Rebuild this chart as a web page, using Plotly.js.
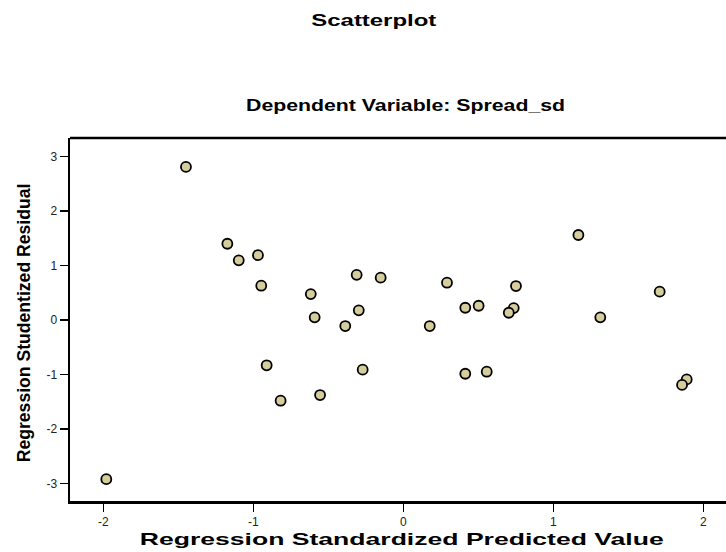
<!DOCTYPE html>
<html>
<head>
<meta charset="utf-8">
<script src="https://cdn.plot.ly/plotly-3.0.1.min.js"></script>
<style>html,body{margin:0;padding:0;background:#fff;}#chart{width:726px;height:552px;}</style>
</head>
<body>
<div id="chart"></div>
<script>
// Regression standardized predicted values (x) and studentized residuals (y)
const predicted = [-1.449, -1.98, -1.173, -1.097, -0.969, -0.947, -0.617, -0.311, -0.151, 0.291,
  0.413, 0.502, -0.297, -0.591, -0.387, 0.176, -0.911, -0.818, -0.555, -0.271,
  0.413, 0.556, 0.751, 0.736, 0.703, 1.167, 1.709, 1.313, 1.889, 1.858];
const residual = [2.81, -2.92, 1.40, 1.095, 1.19, 0.63, 0.477, 0.83, 0.777, 0.685,
  0.226, 0.262, 0.178, 0.05, -0.11, -0.11, -0.83, -1.48, -1.376, -0.91,
  -0.985, -0.948, 0.624, 0.22, 0.134, 1.56, 0.52, 0.05, -1.09, -1.19];
const xTicks = [-2, -1, 0, 1, 2];
const yTicks = [-3, -2, -1, 0, 1, 2, 3];
const chartTitle = 'Scatterplot';
const subTitle = 'Dependent Variable: Spread_sd';
const xTitle = 'Regression Standardized Predicted Value';
const yTitle = 'Regression Studentized Residual';

const font = "'Liberation Sans', Arial, sans-serif";

const trace = {
  x: predicted, y: residual, type: 'scatter', mode: 'markers',
  marker: {symbol: 'circle', size: 10, color: '#d6cd9c', line: {color: '#000', width: 1.8}},
  hoverinfo: 'skip', cliponaxis: false
};

function ann(text, x, y, size, angle) {
  return {text: text, xref: 'paper', yref: 'paper', x: x, y: y, textangle: angle || 0,
    showarrow: false, xanchor: 'center', yanchor: 'middle',
    font: {family: font, size: size, color: '#000', weight: 700}};
}

const layout = {
  width: 726, height: 552,
  margin: {l: 70, r: 0, t: 138, b: 51, pad: 0},
  paper_bgcolor: '#fff', plot_bgcolor: '#fff',
  showlegend: false,
  font: {family: font, color: '#222', size: 12},
  xaxis: {
    range: [-2.222, 2.151], tickvals: xTicks, ticktext: xTicks.map(String),
    showgrid: false, zeroline: false, showline: true, linecolor: '#000', linewidth: 2.5,
    ticks: 'outside', ticklen: 8, tickwidth: 1.5, tickcolor: '#000',
    tickfont: {family: font, size: 12, color: '#222'}
  },
  yaxis: {
    range: [-3.32, 3.34], tickvals: yTicks, ticktext: yTicks.map(String),
    showgrid: false, zeroline: false, showline: true, linecolor: '#000', linewidth: 2.5,
    ticks: 'outside', ticklen: 8, tickwidth: 1.5, tickcolor: '#000',
    tickfont: {family: font, size: 12, color: '#222'}
  },
  shapes: [{type: 'line', xref: 'paper', yref: 'paper', x0: 0, x1: 1, y0: 1, y1: 1,
    line: {color: '#000', width: 2.5}}],
  annotations: [
    ann(chartTitle, 0.4627, 1.3237, 16),
    ann(subTitle, 0.5114, 1.0887, 17),
    ann(xTitle, 0.5046, -0.1047, 17),
    ann(yTitle, -0.0705, 0.4917, 17.6, -90)
  ]
};

// widths of the (horizontally wide) reference lettering, in px
const stretch = {};
stretch[chartTitle] = 125;
stretch[subTitle] = 319;
stretch[xTitle] = 524;

Plotly.newPlot('chart', [trace], layout, {displayModeBar: false, staticPlot: true}).then(function () {
  document.querySelectorAll('.annotation-text').forEach(function (t) {
    const w = stretch[t.textContent];
    if (w) {
      t.setAttribute('textLength', w);
      t.setAttribute('lengthAdjust', 'spacingAndGlyphs');
    }
  });
});
</script>
</body>
</html>
